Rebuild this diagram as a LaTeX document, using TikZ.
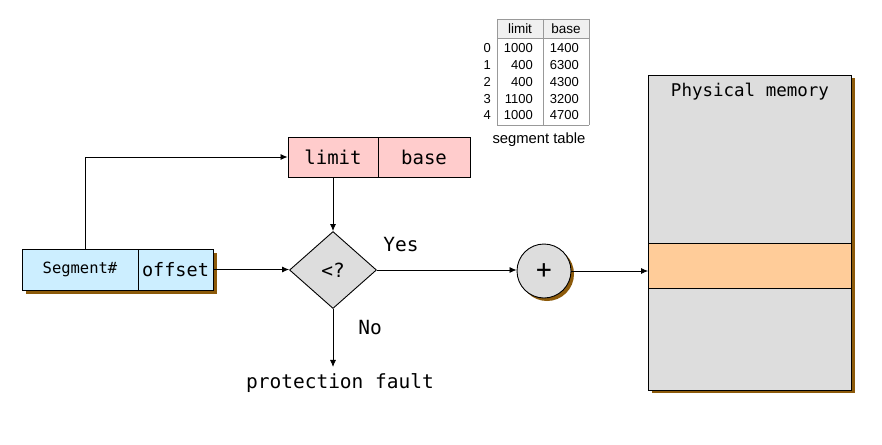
\documentclass[tikz,border=0pt]{standalone}
\usepackage{fontspec}
\setmonofont{DejaVu Sans Mono}
\newfontfamily\tablefont{Liberation Sans}
\usetikzlibrary{positioning,shapes.geometric,shadows,arrows.meta}

\definecolor{segblue}{HTML}{CCEEFF}
\definecolor{limitpink}{HTML}{FFCCCC}
\definecolor{boxgray}{HTML}{DDDDDD}
\definecolor{bandorange}{HTML}{FFCC99}
\definecolor{shadowbrown}{HTML}{8C5A0A}
\definecolor{tablegray}{HTML}{999999}

\begin{document}
\begin{tikzpicture}[x=1pt, y=-1pt,
    box/.style={draw, line width=0.9pt, inner sep=0pt, minimum height=41pt,
      font=\ttfamily\fontsize{19}{22}\selectfont},
    shade4/.style={drop shadow={shadow xshift=4pt, shadow yshift=-4pt, fill=shadowbrown, opacity=1}},
    shade3/.style={drop shadow={shadow xshift=3pt, shadow yshift=-3pt, fill=shadowbrown, opacity=1}},
    conn/.style={line width=0.8pt, -{Latex[length=7pt, width=6pt]}},
    lbl/.style={font=\ttfamily\fontsize{19.5}{22}\selectfont}]
  \useasboundingbox (0,0) rectangle (882,444);

  % Logical address: segment number and offset
  \node[box, fill=segblue, shade4, minimum width=116pt,
    font=\ttfamily\fontsize{15.5}{18}\selectfont] (segno) at (80,269.5) {Segment\#};
  \node[box, fill=segblue, shade4, minimum width=75pt,
    font=\ttfamily\fontsize{18.5}{22}\selectfont] (offset) at (175.5,269.5) {offset};

  % Entry taken from the segment table
  \node[box, fill=limitpink, minimum width=90pt, minimum height=40pt] (limit) at (333,157) {limit};
  \node[box, fill=limitpink, minimum width=92pt, minimum height=40pt] (base) at (424,157) {base};

  % Limit check and adder
  \node[draw, diamond, aspect=1.13, fill=boxgray, line width=0.9pt, inner sep=0pt,
    minimum width=87pt, minimum height=77pt, lbl] (check) at (333,270) {<?};
  \node[draw, circle, fill=boxgray, shade3, line width=0.9pt, inner sep=0pt,
    minimum size=54pt, font=\ttfamily\fontsize{26}{28}\selectfont] (adder) at (544,271) {+};

  % Physical memory with the selected segment
  \node[draw, fill=boxgray, shade3, line width=0.9pt, inner sep=0pt,
    minimum width=203pt, minimum height=315pt] (mem) at (750,232.5) {};
  \node[draw, fill=bandorange, line width=0.9pt, inner sep=0pt,
    minimum width=203pt, minimum height=45pt] (segment) at (750,265.5) {};
  \node[font=\ttfamily\fontsize{17.5}{20}\selectfont] (memtitle) at (750,92) {Physical memory};

  % Labels
  \node[lbl] (yes) at (401,245) {Yes};
  \node[lbl] (no) at (370,328) {No};
  \node[lbl] (fault) at (340,383) {protection fault};

  % Connectors
  \draw[conn] ([xshift=5pt]segno.north) |- (limit.west);
  \draw[conn] (limit.south) -- (check.north);
  \draw[conn] (offset.east) -- (offset.east -| check.west);
  \draw[conn] (check.east) -- (check.east -| adder.west);
  \draw[conn] (adder.east) -- (adder.east -| segment.west);
  \draw[conn, shorten >=3pt] (check.south) -- (check.south |- fault.north);

  % Segment table
  \begin{scope}[font=\tablefont\fontsize{13}{15}\selectfont]
    \fill[gray!12] (497,19) rectangle (589,38);
    \draw[tablegray, line width=0.8pt] (497,19) -- (589,19);
    \draw[tablegray, line width=0.8pt] (497,38) -- (589,38);
    \draw[tablegray, line width=0.8pt] (497,125) -- (589,125);
    \foreach \x in {497,543,589}
      \draw[tablegray, line width=0.8pt] (\x,19) -- (\x,125);
    \node[font=\tablefont\fontsize{13.5}{15}\selectfont] (hlimit) at (520,29) {limit};
    \node[font=\tablefont\fontsize{13.5}{15}\selectfont] (hbase) at (566,29) {base};
    \foreach \i/\l/\b in {0/1000/1400,1/400/6300,2/400/4300,3/1100/3200,4/1000/4700} {
      \pgfmathsetmacro{\rowy}{48.5+16.7*\i}
      \node[anchor=east, inner sep=1pt] (idx\i) at (492,\rowy) {\i};
      \node[anchor=east, inner sep=1pt] (lim\i) at (534,\rowy) {\l};
      \node[anchor=east, inner sep=1pt] (bas\i) at (580,\rowy) {\b};
    }
    \node[font=\tablefont\fontsize{14.8}{16}\selectfont] (tabcap) at (539,140) {segment table};
  \end{scope}
\end{tikzpicture}
\end{document}
